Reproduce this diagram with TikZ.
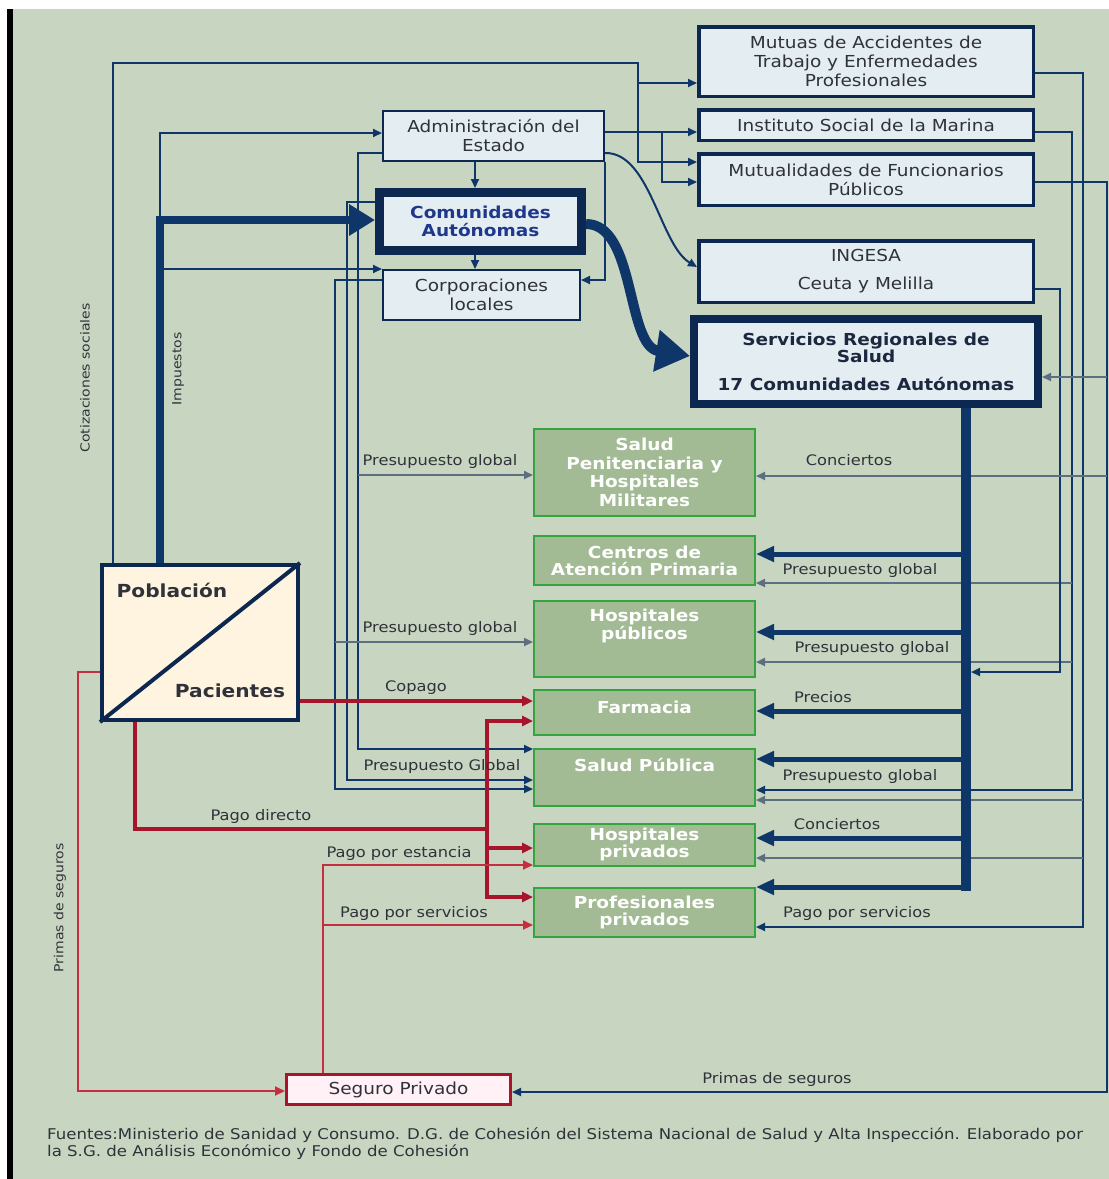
\documentclass[tikz,border=0pt]{standalone}
\usepackage{fontspec}
\setmainfont{DejaVu Sans}[FakeStretch=1.12]
\usetikzlibrary{arrows.meta}

\definecolor{bg}{RGB}{200,213,193}
\definecolor{navy}{RGB}{14,54,104}
\definecolor{navyD}{RGB}{12,40,80}
\definecolor{boxfill}{RGB}{228,237,241}
\definecolor{txt}{RGB}{48,50,58}
\definecolor{feed}{RGB}{92,110,128}
\definecolor{gfill}{RGB}{162,187,148}
\definecolor{gline}{RGB}{52,164,64}
\definecolor{redD}{RGB}{168,20,44}
\definecolor{redL}{RGB}{196,46,62}
\definecolor{cream}{RGB}{255,244,224}
\definecolor{pinkfill}{RGB}{255,241,246}
\definecolor{comtxt}{RGB}{32,56,140}
\definecolor{srstxt}{RGB}{28,40,64}

\newcommand\fBox{\fontsize{16.5}{19}\selectfont}
\newcommand\fLab{\fontsize{14.5}{17}\selectfont}
\newcommand\fGreen{\fontsize{16.5}{17.5}\selectfont}
\newcommand\fRot{\fontsize{12.5}{15}\selectfont}
\newcommand\fPob{\fontsize{18}{21}\selectfont}
\newcommand\fFoot{\fontsize{14.8}{17}\selectfont}

\tikzset{
  bbox/.style={draw=navyD, line width=3.5pt, fill=boxfill, text=txt, font=\fBox,
    align=center, inner sep=0pt},
  sbox/.style={bbox, line width=2pt},
  gbox/.style={draw=gline, line width=2pt, fill=gfill, inner sep=0pt,
    minimum width=221pt},
  gtext/.style={text=white, font=\fGreen\bfseries, align=center, inner sep=0pt},
  cn/.style={draw=navy, line width=2pt},
  cnf/.style={draw=feed, line width=2pt},
  arr/.style={-{Triangle[length=9pt,width=8pt]}},
  busarrow/.style={draw=navy, line width=5pt, -{Triangle[length=18pt,width=15pt]}},
  rthick/.style={draw=redD, line width=3.5pt},
  rarr/.style={-{Triangle[length=11pt,width=10pt]}},
  rthin/.style={draw=redL, line width=2pt, -{Triangle[length=10pt,width=9pt]}},
  lab/.style={font=\fLab, text=txt, inner sep=0pt},
  vlab/.style={font=\fRot, text=txt, inner sep=0pt, rotate=90},
}

\begin{document}
\begin{tikzpicture}[x=1pt,y=-1pt]
\useasboundingbox (0,0) rectangle (1109,1179);
% page ground and left rule
\fill[white] (0,0) rectangle (1109,1179);
\fill[bg] (13,9) rectangle (1109,1179);
\fill[black] (7,9) rectangle (13,1179);

% ---- funding bodies (top right) ----
\node[bbox, minimum width=334.5pt, minimum height=69.5pt] (mutuas) at (866,61.5)
  {Mutuas de Accidentes de\\Trabajo y Enfermedades\\Profesionales};
\node[bbox, minimum width=334.5pt, minimum height=30.5pt] (inst) at (866,125)
  {Instituto Social de la Marina};
\node[bbox, minimum width=334.5pt, minimum height=51.5pt] (mutual) at (866,179.5)
  {Mutualidades de Funcionarios\\Públicos};
\node[bbox, minimum width=334.5pt, minimum height=61.5pt] (ingesa) at (866,271.5)
  {INGESA\\[9pt]Ceuta y Melilla};
\node[bbox, line width=8pt, font=\fontsize{16.5}{17}\selectfont\bfseries, text=srstxt,
  minimum width=344pt, minimum height=85pt] (srs) at (866,361.5)
  {Servicios Regionales de\\Salud\\[11pt]17 Comunidades Autónomas};

% ---- public administrations ----
\node[sbox, minimum width=221pt, minimum height=50pt] (adm) at (493.5,136)
  {Administración del\\Estado};
\node[bbox, line width=9pt, font=\fontsize{16.5}{18}\selectfont\bfseries, text=comtxt,
  minimum width=202pt, minimum height=58pt] (com) at (480.5,221.5)
  {Comunidades\\Autónomas};
\node[sbox, minimum width=197pt, minimum height=50pt] (corp) at (481.5,295)
  {Corporaciones\\locales};

% ---- population / patients ----
\node[draw=navyD, line width=4pt, fill=cream, minimum width=196pt, minimum height=155pt,
  inner sep=0pt] (pob) at (200,642.5) {};
\draw[navyD, line width=4pt] (pob.south west) -- (pob.north east);
\node[font=\fPob\bfseries, text=txt, inner sep=0pt] (pobt) at (172,590) {Población};
\node[font=\fPob\bfseries, text=txt, inner sep=0pt] (pact) at (230,691) {Pacientes};

% ---- providers ----
\node[gbox, minimum height=87pt] (spen) at (644.5,472.5) {};
\node[gtext, font=\fontsize{16.5}{18.5}\selectfont\bfseries] (spent) at (644.5,472.5)
  {Salud\\Penitenciaria y\\Hospitales\\Militares};
\node[gbox, minimum height=49pt] (cap) at (644.5,560.5) {};
\node[gtext] (capt) at (644.5,561) {Centros de\\Atención Primaria};
\node[gbox, minimum height=76pt] (hpub) at (644.5,639) {};
\node[gtext] (hpubt) at (644.5,626) {Hospitales\\públicos};
\node[gbox, minimum height=45pt] (farm) at (644.5,712.5) {};
\node[gtext] (farmt) at (644.5,707) {Farmacia};
\node[gbox, minimum height=57pt] (spub) at (644.5,777.5) {};
\node[gtext] (spubt) at (644.5,765) {Salud Pública};
\node[gbox, minimum height=42pt] (hpriv) at (644.5,845) {};
\node[gtext, font=\fontsize{16.5}{14.5}\selectfont\bfseries] (hprivt) at (644.5,844)
  {Hospitales\\privados};
\node[gbox, minimum height=49pt] (prof) at (644.5,912.5) {};
\node[gtext] (proft) at (644.5,912.5) {Profesionales\\privados};

% ---- private insurance ----
\node[draw=redD, line width=3pt, fill=pinkfill, text=txt, font=\fBox, inner sep=0pt,
  minimum width=224pt, minimum height=30pt] (seg) at (398.5,1089.5) {Seguro Privado};

% ---- social contributions ----
\draw[cn, arr] (pob.north -| 113,0) |- (638,63) |- (mutuas.west |- 0,83);
\draw[cn, arr] (638,83) |- (mutual.west |- 0,162);

% ---- taxes ----
\draw[navy, line width=8pt, -{Triangle[length=26pt,width=30pt]}]
  (pob.north -| 160,0) |- (com.west |- 0,220);
\draw[cn, arr] (160,220) |- (adm.west |- 0,133);
\draw[cn, arr] (164,269) -- (corp.west |- 0,269);

% ---- transfers between administrations ----
\draw[cn, arr] (adm.south -| 475,0) -- (com.north -| 475,0);
\draw[cn, arr] (com.south -| 475,0) -- (corp.north -| 475,0);
\draw[cn, arr] (adm.east |- 0,132) -- (inst.west |- 0,132);
\draw[cn, arr] (662,132) |- (mutual.west |- 0,182);
\draw[cn, arr] (adm.south east) |- (corp.east |- 0,280);
\draw[cn, arr] (adm.east |- 0,153) .. controls (650,152) and (660,245) .. (ingesa.west |- 0,267);
\draw[navy, line width=10pt, -{Triangle[length=34pt,width=40pt]}]
  (com.east |- 0,224) .. controls (636,224) and (626,346) .. (srs.west |- 0,356);

% ---- left budget lines ----
\draw[cn, arr] (adm.west |- 0,153) -| (358,749) -- (spub.west |- 0,749);
\draw[cnf, arr] (358,475) -- (spen.west |- 0,475);
\draw[cn, arr] (com.west |- 0,202) -| (347,780) -- (spub.west |- 0,780);
\draw[cn, arr] (corp.west |- 0,280) -| (335,789) -- (spub.west |- 0,789);
\draw[cnf, arr] (335,642) -- (hpub.west |- 0,642);

% ---- right budget lines ----
\coordinate (barR) at (971,672);
\draw[cn, arr] (mutuas.east |- 0,73) -| (1083,927) -- (prof.east |- 0,927);
\draw[cnf, arr] (1083,800) -- (spub.east |- 0,800);
\draw[cnf, arr] (1083,858) -- (hpriv.east |- 0,858);
\draw[cn, arr] (inst.east |- 0,132) -| (1072,790) -- (spub.east |- 0,790);
\draw[cnf, arr] (1072,583) -- (cap.east |- 0,583);
\draw[cnf, arr] (1072,662) -- (hpub.east |- 0,662);
\draw[cn, arr] (ingesa.east |- 0,289) -| (1060,672) -- (barR);
\draw[cn, arr] (mutual.east |- 0,182) -| (1107,1092) -- (seg.east |- 0,1092);
\draw[cnf, arr] (1107,377) -- (srs.east |- 0,377);
\draw[cnf, arr] (1107,476) -- (spen.east |- 0,476);

% ---- regional health services bus ----
\draw[navy, line width=10pt] (srs.south -| 966,0) -- (966,891);
\draw[busarrow] (966,554) -- (cap.east |- 0,554);
\draw[busarrow] (966,632) -- (hpub.east |- 0,632);
\draw[busarrow] (966,711) -- (farm.east |- 0,711);
\draw[busarrow] (966,759) -- (spub.east |- 0,759);
\draw[busarrow] (966,838) -- (hpriv.east |- 0,838);
\draw[busarrow] (968,887) -- (prof.east |- 0,887);

% ---- private payments ----
\draw[rthick, rarr] (pob.east |- 0,701) -- (farm.west |- 0,701);
\draw[rthick] (pob.south -| 135,0) |- (487,829);
\draw[rthick, rarr] (487,829) |- (farm.west |- 0,721);
\draw[rthick, rarr] (487,829) |- (prof.west |- 0,897);
\draw[rthick, rarr] (487,848) -- (hpriv.west |- 0,848);
\draw[rthin] (pob.west |- 0,672) -| (78,1091) -- (seg.west |- 0,1091);
\draw[rthin] (seg.north -| 323,0) |- (hpriv.west |- 0,865);
\draw[rthin] (323,925) -- (prof.west |- 0,925);

% ---- flow labels ----
\node[lab] (l1) at (440,461) {Presupuesto global};
\node[lab] (l2) at (440,628) {Presupuesto global};
\node[lab] (l3) at (416,688) {Copago};
\node[lab] (l4) at (442,766) {Presupuesto Global};
\node[lab] (l5) at (261,816) {Pago directo};
\node[lab] (l6) at (399,853) {Pago por estancia};
\node[lab] (l7) at (414,913) {Pago por servicios};
\node[lab] (r1) at (849,460) {Conciertos};
\node[lab] (r2) at (860,570) {Presupuesto global};
\node[lab] (r3) at (872,648) {Presupuesto global};
\node[lab] (r4) at (823,697) {Precios};
\node[lab] (r5) at (860,776) {Presupuesto global};
\node[lab] (r6) at (837,824) {Conciertos};
\node[lab] (r7) at (857,913) {Pago por servicios};
\node[lab] (r8) at (777,1079) {Primas de seguros};
\node[vlab] (v1) at (85,378) {Cotizaciones sociales};
\node[vlab] (v2) at (178,369) {Impuestos};
\node[vlab] (v3) at (60,908) {Primas de seguros};

% ---- source note ----
\node[font=\fFoot, text=txt, anchor=north west, align=left, inner sep=0pt] (foot) at (47,1127)
  {Fuentes:Ministerio de Sanidad y Consumo. D.G. de Cohesión del Sistema Nacional de Salud y Alta Inspección. Elaborado por\\
   la S.G. de Análisis Económico y Fondo de Cohesión};
\end{tikzpicture}
\end{document}
